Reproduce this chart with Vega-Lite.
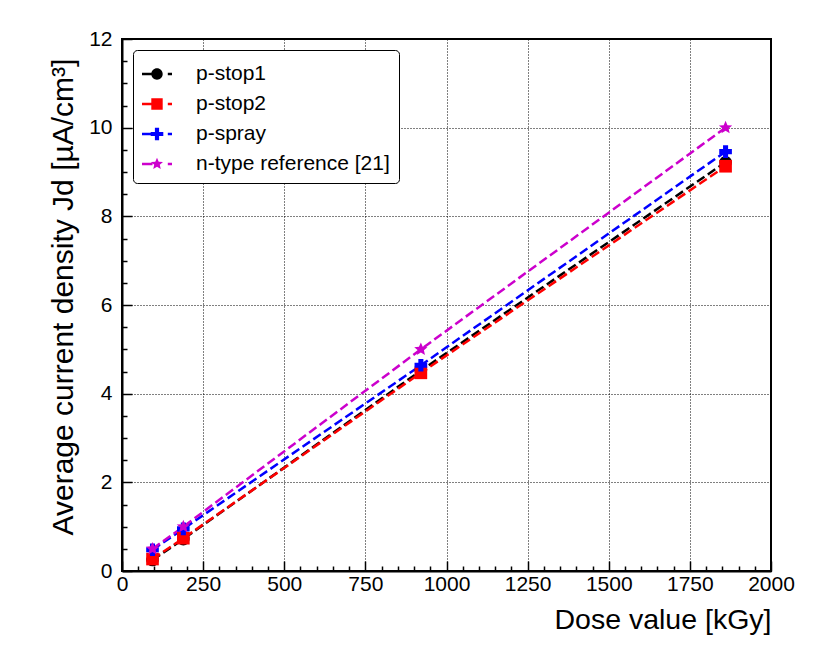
{
  "$schema": "https://vega.github.io/schema/vega-lite/v6.json",
  "width": 649,
  "height": 532,
  "autosize": {"type": "none"},
  "padding": {"left": 122, "top": 39, "right": 59, "bottom": 93},
  "background": "white",
  "config": {
    "font": "Liberation Sans",
    "view": {"stroke": "black", "strokeWidth": 2},
    "axis": {
      "domainColor": "black",
      "domainWidth": 2,
      "tickColor": "black",
      "tickWidth": 1.5,
      "labelColor": "black",
      "labelFontSize": 21,
      "labelOverlap": false,
      "labelFlush": false,
      "gridColor": "#000000",
      "gridDash": [1, 2],
      "gridWidth": 1,
      "titleColor": "black",
      "titleFontWeight": "normal"
    }
  },
  "data": {
    "values": [
      {"series": "p-stop1", "dose": 94, "jd": 0.25},
      {"series": "p-stop1", "dose": 189, "jd": 0.72},
      {"series": "p-stop1", "dose": 921, "jd": 4.52},
      {"series": "p-stop1", "dose": 1860, "jd": 9.22},
      {"series": "p-stop2", "dose": 94, "jd": 0.27},
      {"series": "p-stop2", "dose": 189, "jd": 0.74},
      {"series": "p-stop2", "dose": 921, "jd": 4.47},
      {"series": "p-stop2", "dose": 1860, "jd": 9.13},
      {"series": "p-spray", "dose": 94, "jd": 0.48},
      {"series": "p-spray", "dose": 189, "jd": 0.95},
      {"series": "p-spray", "dose": 921, "jd": 4.64},
      {"series": "p-spray", "dose": 1860, "jd": 9.46},
      {"series": "n-type reference [21]", "dose": 94, "jd": 0.5},
      {"series": "n-type reference [21]", "dose": 189, "jd": 1.0},
      {"series": "n-type reference [21]", "dose": 921, "jd": 5.0},
      {"series": "n-type reference [21]", "dose": 1860, "jd": 10.0}
    ]
  },
  "layer": [
    {
      "mark": {"type": "line", "strokeDash": [9, 4], "strokeWidth": 2.5},
      "encoding": {
        "x": {
          "field": "dose",
          "type": "quantitative",
          "scale": {"domain": [0, 2000], "nice": false, "zero": false},
          "axis": {
            "orient": "bottom",
            "grid": true,
            "title": "Dose value [kGy]",
            "titleFontSize": 28.5,
            "titleX": 649,
            "titleY": 57,
            "titleAlign": "right",
            "titleBaseline": "alphabetic",
            "titleAngle": 0,
            "values": [0, 250, 500, 750, 1000, 1250, 1500, 1750, 2000],
            "format": "d",
            "labelPadding": 12,
            "tickSize": -10
          }
        },
        "y": {
          "field": "jd",
          "type": "quantitative",
          "scale": {"domain": [0, 12], "nice": false},
          "axis": {
            "orient": "left",
            "grid": true,
            "title": "Average current density Jd [µA/cm³]",
            "titleFontSize": 30,
            "titleX": -50,
            "titleY": 496,
            "titleAlign": "left",
            "titleBaseline": "alphabetic",
            "titleAngle": -90,
            "values": [0, 2, 4, 6, 8, 10, 12],
            "format": "d",
            "labelPadding": 20,
            "tickSize": -10
          }
        },
        "color": {
          "field": "series",
          "type": "nominal",
          "scale": {
            "domain": ["p-stop1", "p-stop2", "p-spray", "n-type reference [21]"],
            "range": ["#000000", "#ff0000", "#0000ff", "#cc00cc"]
          },
          "legend": null
        }
      }
    },
    {
      "mark": {"type": "point", "filled": true, "size": 160, "opacity": 1},
      "encoding": {
        "x": {"field": "dose", "type": "quantitative", "axis": null},
        "y": {"field": "jd", "type": "quantitative", "axis": null},
        "color": {
          "field": "series",
          "type": "nominal",
          "scale": {
            "domain": ["p-stop1", "p-stop2", "p-spray", "n-type reference [21]"],
            "range": ["#000000", "#ff0000", "#0000ff", "#cc00cc"]
          },
          "legend": null
        },
        "shape": {
          "field": "series",
          "type": "nominal",
          "scale": {
            "domain": ["p-stop1", "p-stop2", "p-spray", "n-type reference [21]"],
            "range": [
              "circle",
              "square",
              "cross",
              "M0,-1.1L0.3,-0.4L1.05,-0.34L0.48,0.15L0.65,0.89L0,0.5L-0.65,0.89L-0.48,0.15L-1.05,-0.34L-0.3,-0.4Z"
            ]
          },
          "legend": null
        }
      }
    },
    {
      "mark": {"type": "point", "filled": true, "size": 1, "opacity": 0},
      "encoding": {
        "x": {
          "field": "dose",
          "type": "quantitative",
          "axis": {
            "orient": "bottom",
            "grid": false,
            "domain": false,
            "labels": false,
            "title": null,
            "values": [50, 100, 150, 200, 300, 350, 400, 450, 550, 600, 650, 700, 800, 850, 900, 950, 1050, 1100, 1150, 1200, 1300, 1350, 1400, 1450, 1550, 1600, 1650, 1700, 1800, 1850, 1900, 1950],
            "tickSize": -5
          }
        },
        "y": {
          "field": "jd",
          "type": "quantitative",
          "axis": {
            "orient": "left",
            "grid": false,
            "domain": false,
            "labels": false,
            "title": null,
            "values": [0.5, 1, 1.5, 2.5, 3, 3.5, 4.5, 5, 5.5, 6.5, 7, 7.5, 8.5, 9, 9.5, 10.5, 11, 11.5],
            "tickSize": -5
          }
        },
        "color": {
          "field": "series",
          "type": "nominal",
          "scale": {
            "domain": ["p-stop1", "p-stop2", "p-spray", "n-type reference [21]"],
            "range": ["#000000", "#ff0000", "#0000ff", "#cc00cc"]
          },
          "legend": {
            "title": null,
            "orient": "none",
            "legendX": 11,
            "legendY": 11,
            "padding": 9,
            "strokeColor": "black",
            "fillColor": "white",
            "cornerRadius": 4,
            "labelFontSize": 21,
            "labelColor": "black",
            "labelOffset": 24,
            "labelLimit": 400,
            "symbolSize": 900,
            "symbolStrokeWidth": 0,
            "symbolOpacity": 1,
            "rowPadding": 5
          }
        },
        "shape": {
          "field": "series",
          "type": "nominal",
          "scale": {
            "domain": ["p-stop1", "p-stop2", "p-spray", "n-type reference [21]"],
            "range": [
              "M-1,-0.08H-0.3V0.08H-1Z M0.72,-0.08H1V0.08H0.72Z M-0.38,0A0.38,0.38 0 1,1 0.38,0A0.38,0.38 0 1,1 -0.38,0Z",
              "M-1,-0.08H-0.3V0.08H-1Z M0.72,-0.08H1V0.08H0.72Z M-0.38,-0.38H0.38V0.38H-0.38Z",
              "M-1,-0.08H-0.3V0.08H-1Z M0.72,-0.08H1V0.08H0.72Z M-0.14,-0.42H0.14V-0.14H0.42V0.14H0.14V0.42H-0.14V0.14H-0.42V-0.14H-0.14Z",
              "M-1,-0.08H-0.3V0.08H-1Z M0.72,-0.08H1V0.08H0.72Z M0,-0.42L0.115,-0.15L0.4,-0.13L0.185,0.058L0.25,0.34L0,0.19L-0.25,0.34L-0.185,0.058L-0.4,-0.13L-0.115,-0.15Z"
            ]
          },
          "legend": {
            "title": null,
            "orient": "none",
            "legendX": 11,
            "legendY": 11,
            "padding": 9,
            "strokeColor": "black",
            "fillColor": "white",
            "cornerRadius": 4,
            "labelFontSize": 21,
            "labelColor": "black",
            "labelOffset": 24,
            "labelLimit": 400,
            "symbolSize": 900,
            "symbolStrokeWidth": 0,
            "symbolOpacity": 1,
            "rowPadding": 5
          }
        }
      }
    }
  ],
  "resolve": {
    "scale": {"shape": "independent", "color": "independent"},
    "axis": {"x": "independent", "y": "independent"}
  }
}
